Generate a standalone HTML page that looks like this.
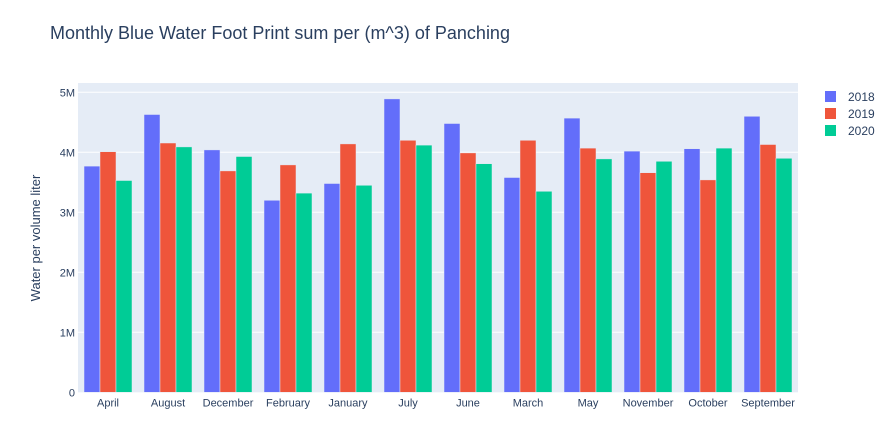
<!DOCTYPE html>
<html><head><meta charset="utf-8"><style>
body{margin:0;background:#fff;font-family:"Liberation Sans",Arial,sans-serif}
svg text{font-family:"Liberation Sans",Arial,sans-serif}
</style></head><body>
<svg id="chart" width="893" height="432">
<rect x="78" y="83" width="720" height="309.3" fill="#e5ecf6"/>
<g id="grid"></g><g id="bars"></g><g id="xlabels"></g><g id="ylabels"></g>
<text x="50" y="39" font-size="18" fill="#2a3f5f">Monthly Blue Water Foot Print sum per (m^3) of Panching</text>
<text transform="translate(40,238) rotate(-90)" text-anchor="middle" font-size="13" fill="#2a3f5f">Water per volume liter</text>
<g id="legend"></g>
</svg>
<script>
const categories=["April","August","December","February","January","July","June","March","May","November","October","September"];
const years=["2018","2019","2020"];
const s2018=[3.77,4.63,4.04,3.2,3.48,4.89,4.48,3.58,4.57,4.02,4.06,4.6];
const s2019=[4.01,4.155,3.69,3.79,4.14,4.2,3.99,4.2,4.07,3.66,3.54,4.13];
const s2020=[3.53,4.09,3.93,3.32,3.45,4.12,3.81,3.35,3.89,3.85,4.07,3.9];
const yTicks=[0,1,2,3,4,5];
const yTickLabels=["0","1M","2M","3M","4M","5M"];
const series=[s2018,s2019,s2020];
const colors=["#636efa","#ef553b","#00cc96"];
const NS="http://www.w3.org/2000/svg";
const X0=78,W=720,Y0=392.3,PPM=60;
const y=v=>Y0-v*PPM;
const band=W/categories.length;
const xc=i=>X0+band*(i+0.5);
function mk(t,a,p){const e=document.createElementNS(NS,t);for(const k in a)e.setAttribute(k,a[k]);p.appendChild(e);return e;}
const G=document.getElementById('grid'),B=document.getElementById('bars'),XL=document.getElementById('xlabels'),YL=document.getElementById('ylabels'),L=document.getElementById('legend');
yTicks.forEach((t,i)=>{
 if(t>0){const l=mk('line',{x1:X0,x2:X0+W,y1:y(t),y2:y(t),stroke:'#fff','stroke-width':1},G);
 
 }
 const tx=mk('text',{x:X0-3,y:y(t)+4,'text-anchor':'end','font-size':11,fill:'#2a3f5f'},YL);
 tx.textContent=yTickLabels[i];
 
 
});
const gw=band*0.8,bw=gw/3;
categories.forEach((c,i)=>{
 series.forEach((s,j)=>{
  const x=xc(i)-gw/2+j*bw;
  const r=mk('rect',{x:x,y:y(s[i]),width:bw,height:Y0-y(s[i]),fill:colors[j],stroke:'#e5ecf6','stroke-width':0.5},B);
  
  
 });
 const t=mk('text',{x:xc(i),y:Y0+14,'text-anchor':'middle','font-size':11,fill:'#2a3f5f'},XL);
 t.textContent=c;
 
 
});
years.forEach((yr,j)=>{
 const g=mk('g',{},L);
 
 
 mk('rect',{x:825,y:91+j*17,width:11,height:11,fill:colors[j]},g);
 const t=mk('text',{x:848,y:101+j*17,'font-size':12,fill:'#2a3f5f'},g);
 t.textContent=yr;
});
</script>
</body></html>
